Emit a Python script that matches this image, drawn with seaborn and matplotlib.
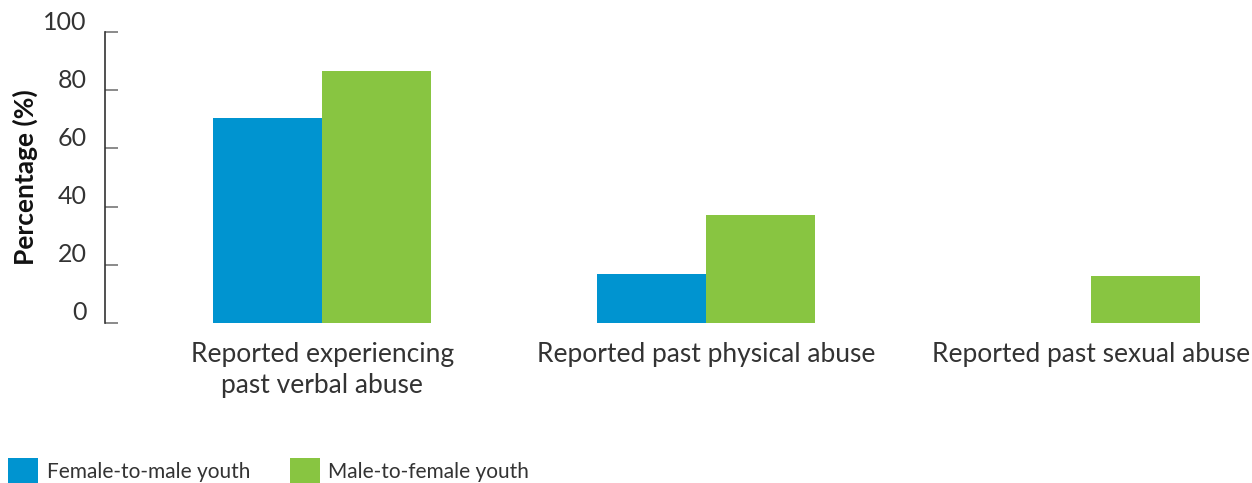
import matplotlib
matplotlib.use("Agg")
import matplotlib.pyplot as plt
import matplotlib.transforms as mtransforms
import seaborn as sns
import pandas as pd
from matplotlib.patches import Patch

categories = ["Reported experiencing\npast verbal abuse",
              "Reported past physical abuse",
              "Reported past sexual abuse"]
groups = ["Female-to-male youth", "Male-to-female youth"]
ftm_values = [70.5, 17, 0]
mtf_values = [86.5, 37, 16]
y_ticks = [0, 20, 40, 60, 80, 100]
colors = ["#0094D0", "#88C541"]

df = pd.DataFrame({
    "category": categories * 2,
    "group": [groups[0]] * 3 + [groups[1]] * 3,
    "value": ftm_values + mtf_values,
})

sns.set_theme(style="white")
plt.rcParams["font.family"] = ["Lato", "DejaVu Sans"]

fig = plt.figure(figsize=(12.52, 4.83), dpi=100)
W, H = 1252, 483
left, right, top, bottom = 105, 1252, 32, 323
ax = fig.add_axes([left / W, 1 - bottom / H, (right - left) / W, (bottom - top) / H])

sns.barplot(data=df, x="category", y="value", hue="group", order=categories,
            hue_order=groups, palette=colors, width=0.568, gap=0,
            saturation=1, ax=ax, legend=False, linewidth=0, errorbar=None)

ax.set_xlim(-0.565, 2.42)
ax.set_ylim(0, 100)
ax.set_yticks(y_ticks)
ax.set_yticklabels([str(v) for v in y_ticks], fontsize=18, color="#333333")
ax.tick_params(axis="y", direction="in", length=9, width=1.2, color="#777777",
               left=True, pad=13)
ax.tick_params(axis="x", length=0, pad=14)
for lab in ax.get_xticklabels():
    lab.set_fontsize(19)
    lab.set_color("#333333")
    lab.set_linespacing(1.3)
offset = mtransforms.ScaledTranslation(0, 12 / 100, fig.dpi_scale_trans)
for lab in ax.get_yticklabels():
    lab.set_transform(lab.get_transform() + offset)

for s in ["top", "right", "bottom"]:
    ax.spines[s].set_visible(False)
ax.spines["left"].set_color("#333333")
ax.spines["left"].set_linewidth(1.2)

ax.set_xlabel("")
ax.set_ylabel("Percentage (%)", fontsize=19, fontweight="bold", color="#111111")
ax.yaxis.set_label_coords(-67 / (right - left), 0.5)

handles = [Patch(facecolor=c, edgecolor="none") for c in colors]
fig.legend(handles, groups, loc="lower left", bbox_to_anchor=(8 / W, 0),
           ncol=2, frameon=False, fontsize=15, handlelength=1.45,
           handleheight=1.45, handletextpad=0.4, columnspacing=1.9,
           borderaxespad=0, borderpad=0, labelcolor="#333333")

fig.savefig("out.png", dpi=100, facecolor="white")
